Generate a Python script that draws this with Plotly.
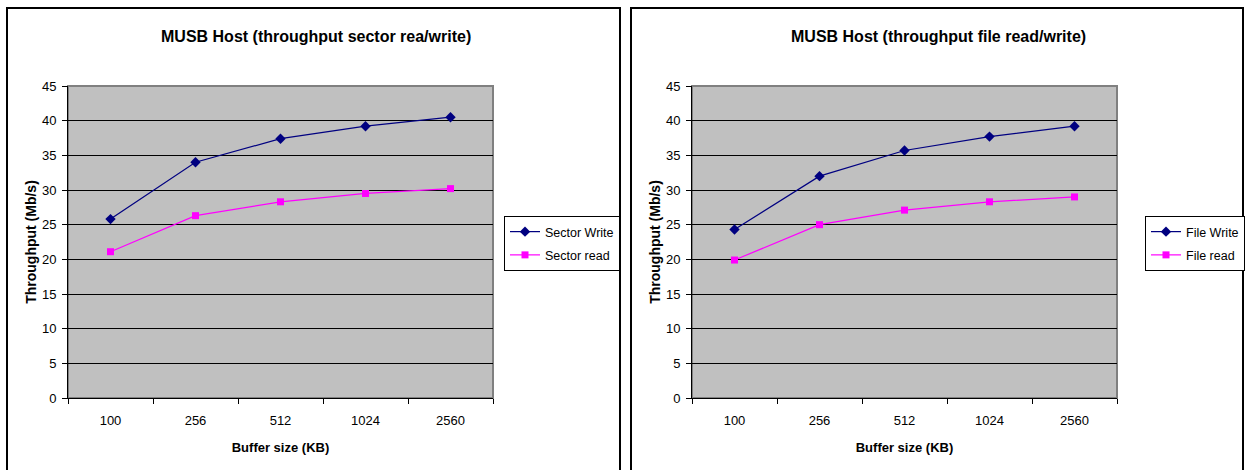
import plotly.graph_objects as go

W, H = 1247, 470

categories = ["100", "256", "512", "1024", "2560"]
sector_write = [25.8, 34.0, 37.4, 39.2, 40.5]
sector_read = [21.1, 26.3, 28.3, 29.5, 30.2]
file_write = [24.3, 32.0, 35.7, 37.7, 39.2]
file_read = [19.9, 25.0, 27.1, 28.3, 29.0]
y_ticks = [0, 5, 10, 15, 20, 25, 30, 35, 40, 45]

titles = ["MUSB Host (throughput sector rea/write)", "MUSB Host (throughput file read/write)"]

FONT = "Liberation Sans, Arial, sans-serif"
NAVY = "#000080"
MAGENTA = "#FF00FF"

def px(x):
    return x / W

def py(y):
    return 1 - y / H

fig = go.Figure()

panels = [
    dict(x0=68, x1=493, box=(7, 620), legx=504, series=[("Sector Write", sector_write), ("Sector read", sector_read)]),
    dict(x0=692, x1=1117, box=(631, 1243), legx=1145, series=[("File Write", file_write), ("File read", file_read)]),
]
ptop, pbot = 86, 398

shapes = []
annotations = []
for i, p in enumerate(panels):
    n = "" if i == 0 else str(i + 1)
    xa = "x" + n
    ya = "y" + n
    leg = "legend" + n
    (wname, wvals), (rname, rvals) = p["series"]
    fig.add_trace(go.Scatter(
        x=categories, y=wvals, name=wname, mode="lines+markers",
        line=dict(color=NAVY, width=1.2),
        marker=dict(symbol="diamond", size=8, color=NAVY),
        xaxis=xa, yaxis=ya, legend=leg, legendgroup=wname))
    fig.add_trace(go.Scatter(
        x=categories, y=rvals, name=rname, mode="lines+markers",
        line=dict(color=MAGENTA, width=1.2),
        marker=dict(symbol="square", size=7, color=MAGENTA),
        xaxis=xa, yaxis=ya, legend=leg, legendgroup=rname))

    fig.layout["xaxis" + n] = dict(
        domain=[px(p["x0"]), px(p["x1"])], anchor=ya, type="category",
        tickson="boundaries", ticks="outside", ticklen=5, tickcolor="black",
        showline=True, linecolor="black", linewidth=1, showgrid=False,
        tickfont=dict(family=FONT, size=13, color="black"), ticklabelstandoff=10,
        range=[-0.5, 4.5], fixedrange=True, automargin=False,
        title=dict(text="<b>Buffer size (KB)</b>", font=dict(family=FONT, size=13, color="black"), standoff=16),
    )
    fig.layout["yaxis" + n] = dict(
        domain=[py(pbot), py(ptop)], anchor=xa, range=[0, 45],
        tickvals=y_ticks, ticks="outside", ticklen=5, tickcolor="black",
        showline=True, linecolor="black", linewidth=1,
        showgrid=True, gridcolor="black", gridwidth=1, zeroline=False,
        tickfont=dict(family=FONT, size=13, color="black"), ticklabelstandoff=3,
        automargin=False, fixedrange=True,
        title=dict(text="<b>Throughput (Mb/s)</b>", font=dict(family=FONT, size=14, color="black"), standoff=2),
    )
    fig.layout[leg] = dict(
        x=px(p["legx"]), y=py(216), xanchor="left", yanchor="top",
        bgcolor="white", bordercolor="black", borderwidth=1,
        font=dict(family=FONT, size=12.5, color="black"),
        tracegroupgap=4, itemwidth=30,
    )
    # chart border box
    shapes.append(dict(type="rect", xref="paper", yref="paper",
                       x0=px(p["box"][0]), x1=px(p["box"][1]), y0=-0.05, y1=py(8),
                       line=dict(color="black", width=2), fillcolor="rgba(0,0,0,0)", layer="below"))
    # plot area background with gray border
    shapes.append(dict(type="rect", xref="paper", yref="paper",
                       x0=px(p["x0"]), x1=px(p["x1"]), y0=py(pbot), y1=py(ptop),
                       line=dict(color="#808080", width=2), fillcolor="#C0C0C0", layer="below"))
    annotations.append(dict(text="<b>" + titles[i] + "</b>", xref="paper", yref="paper",
                            x=px((p["box"][0] + p["box"][1]) / 2 + 2), y=py(36),
                            xanchor="center", yanchor="middle", showarrow=False,
                            font=dict(family=FONT, size=16, color="black")))

fig.update_layout(
    width=W, height=H, margin=dict(l=0, r=0, t=0, b=0, autoexpand=False),
    paper_bgcolor="white", plot_bgcolor="rgba(0,0,0,0)",
    shapes=shapes, annotations=annotations, showlegend=True,
)

fig.write_html("out.html", config={"displayModeBar": False},
               post_script="document.body.style.margin='0';")
